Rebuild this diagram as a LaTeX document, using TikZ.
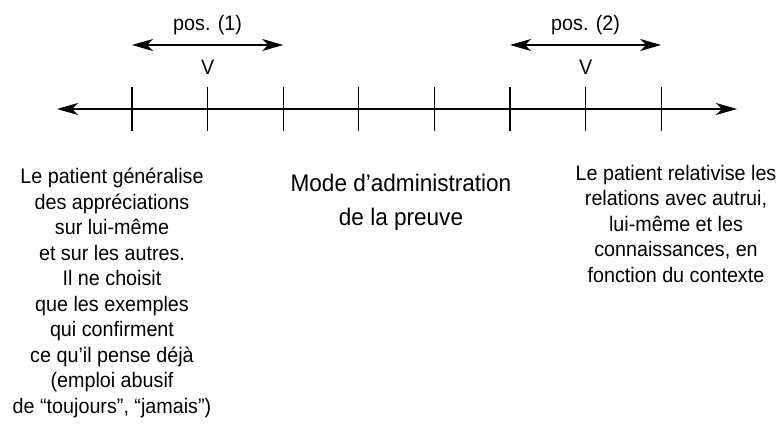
\documentclass[tikz,border=0pt]{standalone}
\usepackage{fontspec}
\setmainfont[FakeStretch=0.94]{Liberation Sans}
\usetikzlibrary{arrows.meta}
\begin{document}
\begin{tikzpicture}[x=1pt,y=-1pt,line width=1.2pt,
  >={Stealth[length=21pt,width=12pt,inset=6pt]},
  txt/.style={inner sep=0pt,align=center,font=\fontsize{21}{25.5}\selectfont},
  bigtxt/.style={inner sep=0pt,align=center,font=\fontsize{24}{34}\selectfont}]
\useasboundingbox (0,0) rectangle (784,425);
% axis with graduations
\coordinate (axisL) at (57,109);
\coordinate (axisR) at (737,109);
\draw[<->] (axisL) -- (axisR);
\foreach \i in {1,...,8}{
  \coordinate (top\i) at (132+75.6*\i-75.6,87);
  \coordinate (bot\i) at (132+75.6*\i-75.6,131);
  \draw (top\i) -- (bot\i);
}
% positions
\coordinate (p1L) at (132,45);
\coordinate (p1R) at (283.2,45);
\draw[<->] (p1L) -- (p1R);
\node[txt,anchor=base](pos1) at (207.6,31){pos. (1)};
\node[txt,anchor=base](v1) at (207.6,75){V};
\coordinate (p2L) at (510,45);
\coordinate (p2R) at (661.2,45);
\draw[<->] (p2L) -- (p2R);
\node[txt,anchor=base](pos2) at (585.6,31){pos. (2)};
\node[txt,anchor=base](v2) at (585.6,75){V};
% texts (base = last line)
\node[txt,anchor=base](left) at (112,413){Le patient généralise\\des appréciations\\sur lui-même\\et sur les autres.\\Il ne choisit\\que les exemples\\qui confirment\\ce qu'il pense déjà\\(emploi abusif\\de “toujours”, “jamais”)};
\node[bigtxt,anchor=base](mid) at (401,225){Mode d'administration\\de la preuve};
\node[txt,anchor=base](right) at (676,282){Le patient relativise les\\relations avec autrui,\\lui-même et les\\connaissances, en\\fonction du contexte};
\end{tikzpicture}
\end{document}
